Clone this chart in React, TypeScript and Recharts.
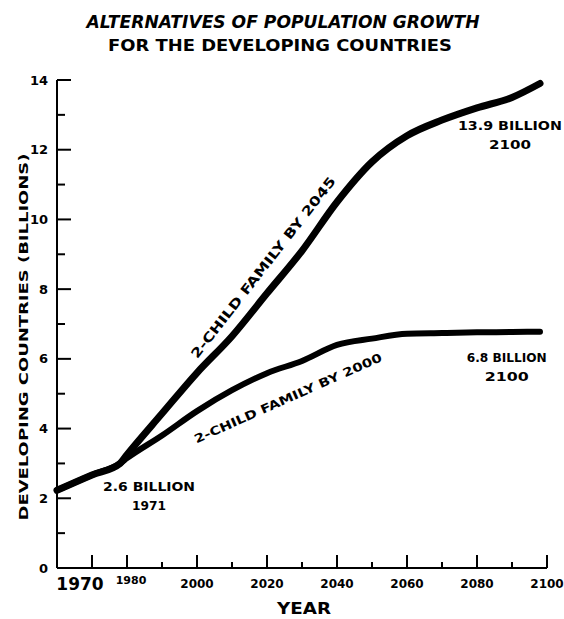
import React from "react";
import { LineChart, Line, XAxis, YAxis, ReferenceDot } from "recharts";

// values (billions)
const years = [1960, 1970, 1978, 1980, 1990, 2000, 2010, 2020, 2030, 2040, 2050, 2060, 2070, 2080, 2090, 2098];
const familyBy2045 = [2.23, 2.67, 3.0, 3.25, 4.43, 5.6, 6.65, 7.88, 9.1, 10.5, 11.65, 12.4, 12.85, 13.2, 13.5, 13.9];
const familyBy2000 = [2.23, 2.67, 3.0, 3.15, 3.8, 4.5, 5.1, 5.59, 5.94, 6.4, 6.58, 6.72, 6.74, 6.76, 6.77, 6.78];

const xTicks = [1970, 1980, 1990, 2000, 2010, 2020, 2030, 2040, 2050, 2060, 2070, 2080, 2090, 2100];
const xLabeled = [1970, 1980, 2000, 2020, 2040, 2060, 2080, 2100];
const yTicks = [0, 1, 2, 3, 4, 5, 6, 7, 8, 9, 10, 11, 12, 13, 14];

const data = years.map((year, i) => ({
  year,
  by2045: familyBy2045[i],
  by2000: familyBy2000[i],
}));

const FONT = "'DejaVu Sans', sans-serif";

const XTick = ({ x, y, payload }: any) => {
  const v = payload.value;
  const major = v % 20 === 0 || v === 1970;
  const labeled = xLabeled.includes(v);
  let dx = 0;
  let dy = 16;
  let size = 12;
  if (v === 1970) {
    dx = -12;
    size = 17;
  }
  if (v === 1980) {
    dx = 4;
    dy = 12;
    size = 11;
  }
  return (
    <g>
      <line x1={x} x2={x} y1={y} y2={y - (major ? 13 : 6)} stroke="#000" strokeWidth={2} />
      {labeled && (
        <text
          x={x + dx}
          y={y + dy}
          dy="0.35em"
          textAnchor="middle"
          fontFamily={FONT}
          fontWeight="bold"
          fontSize={size}
          fill="#000"
        >
          {v}
        </text>
      )}
    </g>
  );
};

const YTick = ({ x, y, payload }: any) => {
  const v = payload.value;
  const major = v % 2 === 0;
  return (
    <g>
      {v > 0 && <line x1={x} x2={x + (major ? 14 : 8)} y1={y} y2={y} stroke="#000" strokeWidth={2} />}
      {major && (
        <text
          x={x - 9}
          y={y}
          dy="0.35em"
          textAnchor="end"
          fontFamily={FONT}
          fontWeight="bold"
          fontSize={13}
          fill="#000"
        >
          {v}
        </text>
      )}
    </g>
  );
};

const Note = ({ viewBox, lines, size = 12, rotate = 0, width }: any) => {
  const cx = viewBox.x + (viewBox.width || 0) / 2;
  const cy = viewBox.y + (viewBox.height || 0) / 2;
  return (
    <g transform={`translate(${cx},${cy}) rotate(${rotate})`}>
      {lines.map((t: string, i: number) => (
        <text
          key={i}
          x={0}
          y={(i - (lines.length - 1) / 2) * 19}
          dy="0.35em"
          textAnchor="middle"
          fontFamily={FONT}
          fontWeight="bold"
          fontSize={size}
          fill="#000"
          textLength={width ? width[i] : undefined}
          lengthAdjust="spacingAndGlyphs"
        >
          {t}
        </text>
      ))}
    </g>
  );
};

export default function App() {
  return (
    <div style={{ position: "absolute", left: 0, top: 0, width: 564, height: 619, background: "#fff" }}>
      <LineChart width={564} height={619} data={data} margin={{ top: 80, right: 17, left: 0, bottom: 0 }}>
        <XAxis
          dataKey="year"
          type="number"
          domain={[1960, 2100]}
          ticks={xTicks}
          height={51}
          tickSize={0}
          tickMargin={0}
          tickLine={false}
          axisLine={{ stroke: "#000", strokeWidth: 2 }}
          tick={<XTick />}
          interval={0}
        />
        <YAxis
          type="number"
          domain={[0, 14]}
          ticks={yTicks}
          width={57}
          tickSize={0}
          tickMargin={0}
          tickLine={false}
          axisLine={{ stroke: "#000", strokeWidth: 2 }}
          tick={<YTick />}
          interval={0}
        />
        <Line
          type="monotone"
          dataKey="by2045"
          stroke="#000"
          strokeWidth={7}
          strokeLinecap="round"
          dot={false}
          isAnimationActive={false}
        />
        <Line
          type="monotone"
          dataKey="by2000"
          stroke="#000"
          strokeWidth={6}
          strokeLinecap="round"
          dot={false}
          isAnimationActive={false}
        />
        <ReferenceDot
          x={1986.3}
          y={2.05}
          r={0}
          ifOverflow="visible"
          label={<Note lines={["2.6 BILLION", "1971"]} size={12} width={[92, 34]} />}
        />
        <ReferenceDot
          x={2089.4}
          y={12.4}
          r={0}
          ifOverflow="visible"
          label={<Note lines={["13.9 BILLION", "2100"]} size={12} width={[104, 42]} />}
        />
        <ReferenceDot
          x={2088.5}
          y={5.75}
          r={0}
          ifOverflow="visible"
          label={<Note lines={["6.8 BILLION", "2100"]} size={12} width={[80, 44]} />}
        />
        <ReferenceDot
          x={2018.9}
          y={8.62}
          r={0}
          ifOverflow="visible"
          label={<Note lines={["2-CHILD FAMILY BY 2045"]} size={13} rotate={-52} width={[226]} />}
        />
        <ReferenceDot
          x={2026}
          y={4.87}
          r={0}
          ifOverflow="visible"
          label={<Note lines={["2-CHILD FAMILY BY 2000"]} size={12} rotate={-24} width={[204]} />}
        />
      </LineChart>
      <svg
        width={564}
        height={619}
        style={{ position: "absolute", left: 0, top: 0, pointerEvents: "none" }}
      >
        <text x={283} y={22} dy="0.35em" textAnchor="middle" fontFamily={FONT} fontWeight="bold" fontStyle="italic" fontSize={17} textLength={393} lengthAdjust="spacingAndGlyphs">
          ALTERNATIVES OF POPULATION GROWTH
        </text>
        <text x={280} y={46} dy="0.35em" textAnchor="middle" fontFamily={FONT} fontWeight="bold" fontSize={15} textLength={344} lengthAdjust="spacingAndGlyphs">
          FOR THE DEVELOPING COUNTRIES
        </text>
        <text
          transform="translate(23,337) rotate(-90)"
          x={0}
          y={0}
          dy="0.35em"
          textAnchor="middle"
          fontFamily={FONT}
          fontWeight="bold"
          fontSize={13}
          textLength={367}
          lengthAdjust="spacingAndGlyphs"
        >
          DEVELOPING COUNTRIES (BILLIONS)
        </text>
        <text x={304} y={608} dy="0.35em" textAnchor="middle" fontFamily={FONT} fontWeight="bold" fontSize={16} textLength={54} lengthAdjust="spacingAndGlyphs">
          YEAR
        </text>
      </svg>
    </div>
  );
}
